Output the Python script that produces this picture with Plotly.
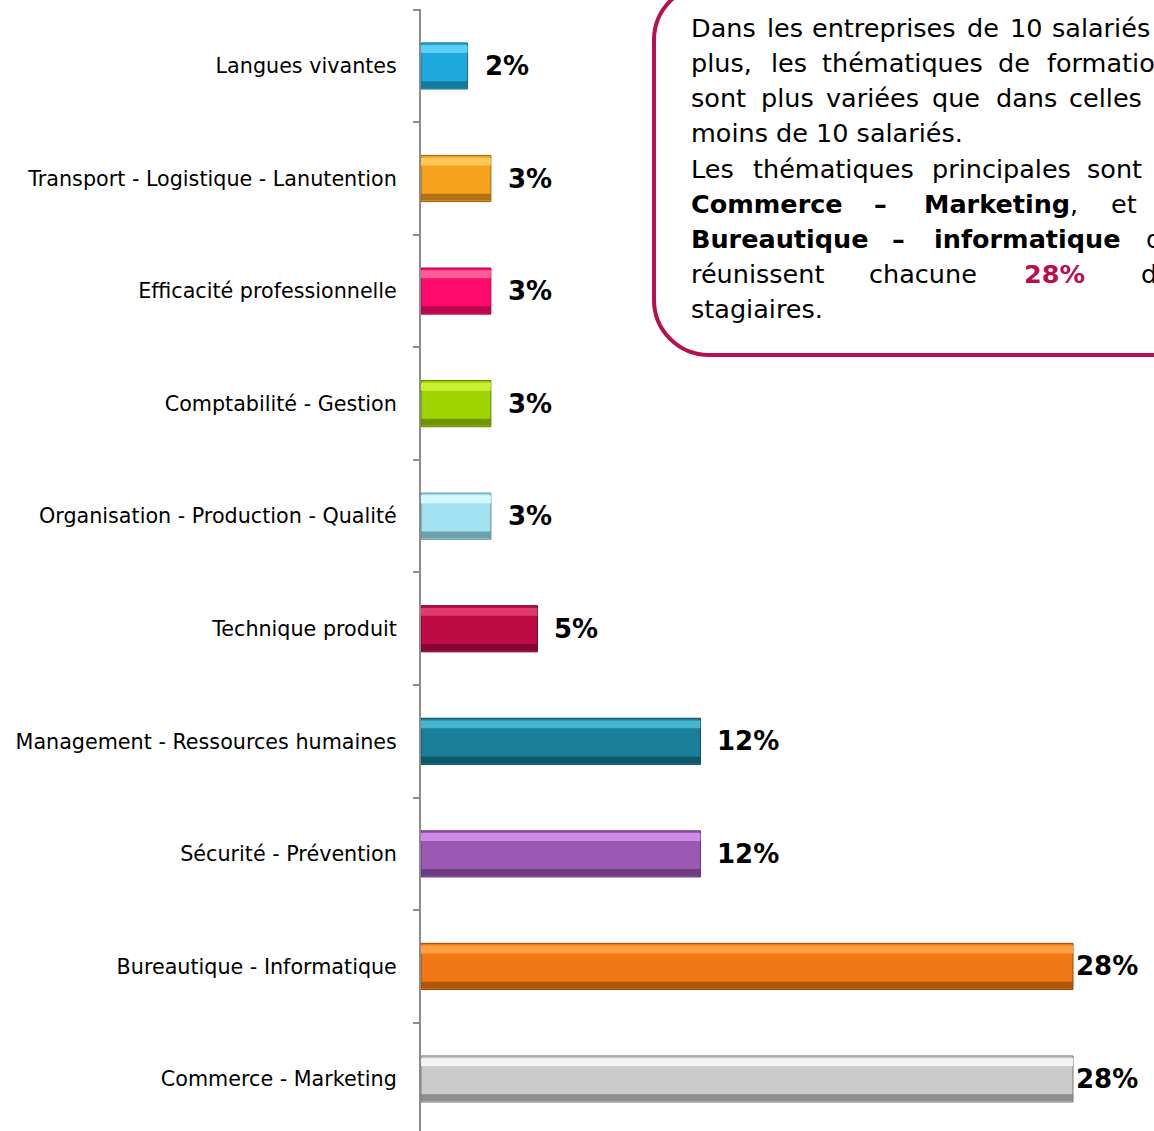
import plotly.graph_objects as go

# ---------------- data ----------------
categories = [
    "Langues vivantes",
    "Transport - Logistique - Lanutention",
    "Efficacité professionnelle",
    "Comptabilité - Gestion",
    "Organisation - Production - Qualité",
    "Technique produit",
    "Management - Ressources humaines",
    "Sécurité - Prévention",
    "Bureautique - Informatique",
    "Commerce - Marketing",
]
values = [2, 3, 3, 3, 3, 5, 12, 12, 28, 28]
value_labels = ["2%", "3%", "3%", "3%", "3%", "5%", "12%", "12%", "28%", "28%"]

# ---------------- styles ----------------
base_colors = ["#1EAADC", "#F5A31C", "#FF0A6C", "#A0D400", "#A3E2F0",
               "#BE0A45", "#1A8099", "#9B59B3", "#F07814", "#CBCBCB"]
light_colors = ["#5FD0F5", "#FFC75A", "#FF5C9A", "#C8F030", "#D3F7FF",
                "#E03A6E", "#45B5D0", "#D08AE8", "#FFA040", "#F4F4F4"]
dark_colors = ["#126A8A", "#9A6210", "#A00645", "#5F7F00", "#5E8A95",
               "#70062A", "#0E4A5A", "#5E3470", "#9A4A08", "#7A7A7A"]
label_shift = [15, 15, 15, 15, 15, 15, 15, 15, 1, 1]

W, H = 1154, 1131
L_M, T_M = 421, 9
PW, PH = W - L_M, H - T_M

FONT = "DejaVu Sans"
CRIMSON = "#B90E50"

fig = go.Figure()

bw = 0.41
fig.add_trace(go.Bar(
    x=values, y=categories, orientation="h", width=bw,
    marker=dict(color=base_colors, line=dict(color=dark_colors, width=1)),
    hoverinfo="skip", showlegend=False,
))
# top highlight strip (bevel look)
fig.add_trace(go.Bar(
    x=values, y=categories, orientation="h", width=0.07, offset=-0.185,
    marker=dict(color=light_colors, line=dict(width=0)),
    hoverinfo="skip", showlegend=False,
))
# bottom shadow strip
fig.add_trace(go.Bar(
    x=values, y=categories, orientation="h", width=0.06, offset=0.135,
    marker=dict(color=dark_colors, line=dict(width=0), opacity=0.75),
    hoverinfo="skip", showlegend=False,
))

# value labels
for cat, v, lab, sh in zip(categories, values, value_labels, label_shift):
    fig.add_annotation(
        x=v, y=cat, xref="x", yref="y", text=f"<b>{lab}</b>",
        showarrow=False, xanchor="left", yanchor="middle", xshift=sh,
        font=dict(family=FONT, size=26, color="#000000"),
    )

# ---------------- text box ----------------
def px(xp):
    return (xp - L_M) / PW

def py(yp):
    return (H - yp) / PH

# rounded rectangle (left part visible, rest cut by the page edge)
x0, y0, y1, r, xr = 654, -15, 355, 55, 1200
k = 0.552 * r
path = (
    f"M {px(xr)} {py(y0)} L {px(x0 + r)} {py(y0)} "
    f"C {px(x0 + r - k)} {py(y0)} {px(x0)} {py(y0 + r - k)} {px(x0)} {py(y0 + r)} "
    f"L {px(x0)} {py(y1 - r)} "
    f"C {px(x0)} {py(y1 - r + k)} {px(x0 + r - k)} {py(y1)} {px(x0 + r)} {py(y1)} "
    f"L {px(xr)} {py(y1)} Z"
)
fig.add_shape(type="path", path=path, xref="paper", yref="paper",
              line=dict(color=CRIMSON, width=4), fillcolor="white", layer="above")

box_lines = [
    ["Dans", "les", "entreprises", "de", "10", "salariés"],
    ["plus,", "les", "thématiques", "de", "formation"],
    ["sont", "plus", "variées", "que", "dans", "celles"],
    ["moins de 10 salariés."],
    ["Les", "thématiques", "principales", "sont"],
    ["<b>Commerce</b>", "<b>–</b>", "<b>Marketing</b>,", "et"],
    ["<b>Bureautique</b>", "<b>–</b>", "<b>informatique</b>", "qui"],
    ["réunissent", "chacune", f"<b><span style='color:{CRIMSON}'>28%</span></b>", "des"],
    ["stagiaires."],
]
word_x = [
    [692, 768, 813, 968, 1011, 1053],
    [692, 772, 823, 999, 1048],
    [692, 762, 827, 933, 997, 1070],
    [692],
    [692, 754, 933, 1088],
    [692, 875, 925, 1112],
    [692, 893, 935, 1147],
    [692, 870, 1025, 1142],
    [692],
]
line_y = [28, 63, 98, 133, 169, 204, 239, 274, 309]
TEXT_PAD = 3  # annotation inner padding

for words, xs, yy in zip(box_lines, word_x, line_y):
    for w, xx in zip(words, xs):
        fig.add_annotation(
            x=px(xx - TEXT_PAD), y=py(yy), xref="paper", yref="paper", text=w,
            showarrow=False, xanchor="left", yanchor="middle",
            font=dict(family=FONT, size=25.5, color="#000000"),
        )

fig.update_layout(
    width=W, height=H,
    margin=dict(l=L_M, r=0, t=T_M, b=0, pad=0),
    barmode="overlay",
    plot_bgcolor="white", paper_bgcolor="white",
    font=dict(family=FONT, color="#000000"),
    xaxis=dict(range=[0, PW / 23.286], visible=False, fixedrange=True),
    yaxis=dict(
        type="category", categoryorder="array", categoryarray=categories,
        range=[9.462, -0.506],
        showline=True, linecolor="#8C8C8C", linewidth=2,
        ticks="outside", tickson="boundaries", ticklen=6, tickwidth=2,
        tickcolor="#8C8C8C", showgrid=False, zeroline=False,
        tickfont=dict(family=FONT, size=20.7, color="#000000"),
        ticklabelstandoff=18,
    ),
)

fig.write_html(
    "out.html",
    config={"displayModeBar": False},
    post_script="document.body.style.margin='0';document.body.style.overflow='hidden';",
)
